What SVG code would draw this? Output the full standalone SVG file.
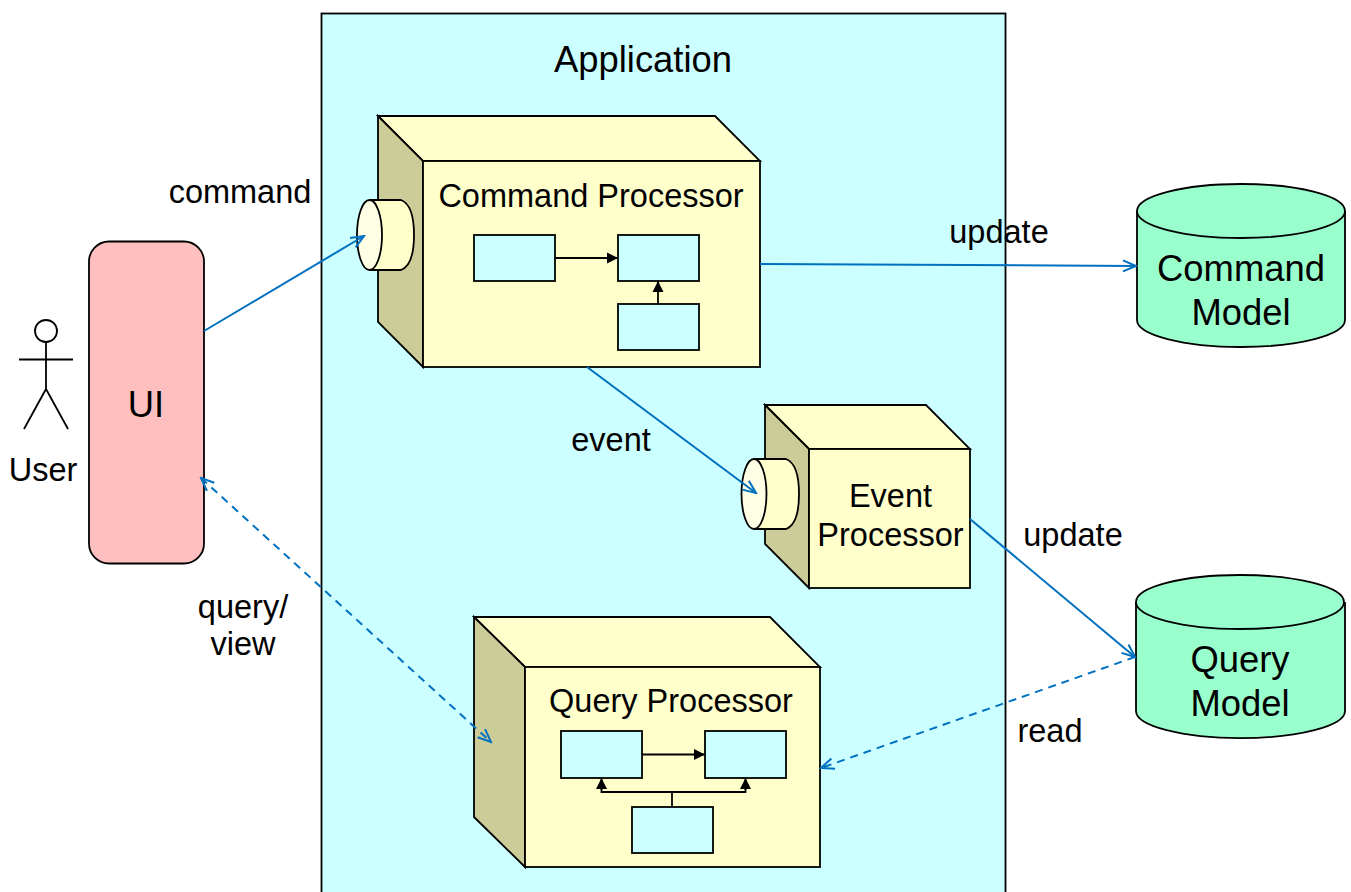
<svg xmlns="http://www.w3.org/2000/svg" width="1351" height="892" viewBox="0 0 1351 892">
<defs>
<marker id="open" markerWidth="16" markerHeight="14" refX="14" refY="7" orient="auto-start-reverse" markerUnits="userSpaceOnUse"><path d="M1 1.500 L14 7 L1 12.500" fill="none" stroke="#0070c0" stroke-width="2"/></marker>
<marker id="solid" markerWidth="12" markerHeight="12" refX="11" refY="6" orient="auto" markerUnits="userSpaceOnUse"><path d="M0 0.500 L11 6 L0 11.500 Z" fill="#000"/></marker>
</defs>
<style>
text{font-family:"Liberation Sans",Arial,sans-serif;fill:#000}
.l,.m{font-size:32.500px}
.n{font-size:36.400px}
.s{stroke:#000;stroke-width:1.800}
.f{fill:#ffffcc}
.e{fill:#ffffe6}
.d{fill:#cccc99}
.c{fill:#ccffff}
.g{fill:#99ffcc}
.k{fill:none;stroke:#0070c0;stroke-width:2}
.b{fill:none;stroke:#000;stroke-width:1.800}
</style>
<rect width="1351" height="892" fill="#fff"/>
<g id="application"><rect x="321.500" y="13.500" width="684" height="890" class="c s"/><text x="643" y="72" text-anchor="middle" class="n">Application</text></g>
<g id="user"><circle cx="46" cy="331" r="11" fill="#fff" class="s"/><path d="M46 342V389M19 359.500H73M46 389L24 429M46 389L68 429" class="b"/><text x="43" y="481" text-anchor="middle" class="m">User</text></g>
<g id="ui"><rect x="89" y="241.500" width="115" height="322" rx="20" fill="#ffbfbf" class="s"/><text x="146" y="417" text-anchor="middle" class="n">UI</text></g>
<g id="command-processor">
<path d="M378 116H715L760 161H423Z" class="f s"/><path d="M378 116L423 161V367L378 322Z" class="d s"/><rect x="423" y="161" width="337" height="206" class="f s"/>
<path d="M369 200H401Q414 205 414 235Q414 265 401 270H369" class="f s"/><ellipse cx="369.500" cy="235" rx="12.500" ry="35" class="e s"/>
<text x="591" y="207" text-anchor="middle" class="m">Command Processor</text>
<rect x="474" y="235" width="81" height="46" class="c s"/><rect x="618" y="235" width="81" height="46" class="c s"/><rect x="618" y="304" width="81" height="46" class="c s"/>
<path d="M555 258H618" class="b" marker-end="url(#solid)"/><path d="M658 304V281" class="b" marker-end="url(#solid)"/>
</g>
<g id="event-processor">
<path d="M765 405H926L970 449H809Z" class="f s"/><path d="M765 405L809 449V588L765 544Z" class="d s"/><rect x="809" y="449" width="161" height="139" class="f s"/>
<path d="M754 459H786Q799 464 799 494Q799 524 786 529H754" class="f s"/><ellipse cx="754" cy="494" rx="12.500" ry="35" class="e s"/>
<text x="890.500" y="507" text-anchor="middle" class="m">Event</text><text x="890.500" y="546" text-anchor="middle" class="m">Processor</text>
</g>
<g id="query-processor">
<path d="M474 617H770L820 667H525Z" class="f s"/><path d="M474 617L525 667V867L474 817Z" class="d s"/><rect x="525" y="667" width="295" height="200" class="f s"/>
<text x="671" y="712" text-anchor="middle" class="m">Query Processor</text>
<rect x="561" y="731" width="81" height="47" class="c s"/><rect x="705" y="731" width="81" height="47" class="c s"/><rect x="632" y="807" width="81" height="46" class="c s"/>
<path d="M642 754.500H705" class="b" marker-end="url(#solid)"/><path d="M672 807V792" class="b"/><path d="M601.500 780V792H745.500V780" class="b"/><path d="M601.500 790V778" class="b" marker-end="url(#solid)"/><path d="M745.500 790V778" class="b" marker-end="url(#solid)"/>
</g>
<g id="command-model"><path d="M1137 211V320A104 27 0 0 0 1345 320V211" class="g s"/><ellipse cx="1241" cy="211" rx="104" ry="27" class="g s"/><text x="1241" y="281" text-anchor="middle" class="n">Command</text><text x="1241" y="325" text-anchor="middle" class="n">Model</text></g>
<g id="query-model"><path d="M1136 602V711A104 27 0 0 0 1345 711V602" class="g s"/><ellipse cx="1240" cy="602" rx="104" ry="27" class="g s"/><text x="1240" y="672" text-anchor="middle" class="n">Query</text><text x="1240" y="716" text-anchor="middle" class="n">Model</text></g>
<g id="connectors">
<path d="M204 331L364 236" class="k" marker-end="url(#open)"/>
<path d="M760 264L1136 266" class="k" marker-end="url(#open)"/>
<path d="M587 367L756 493" class="k" marker-end="url(#open)"/>
<path d="M970 519L1135 657" class="k" marker-end="url(#open)"/>
<path d="M201 478L491 742" class="k" stroke-dasharray="8 6" marker-start="url(#open)" marker-end="url(#open)"/>
<path d="M1135 657L821 768" class="k" stroke-dasharray="8 6" marker-end="url(#open)"/>
</g>
<g id="labels">
<text x="240" y="203" text-anchor="middle" class="l">command</text>
<text x="999" y="243" text-anchor="middle" class="l">update</text>
<text x="611" y="451" text-anchor="middle" class="l">event</text>
<text x="1073" y="546" text-anchor="middle" class="l">update</text>
<text x="243" y="618" text-anchor="middle" class="l">query/</text>
<text x="243" y="655" text-anchor="middle" class="l">view</text>
<text x="1050" y="742" text-anchor="middle" class="l">read</text>
</g>
</svg>
